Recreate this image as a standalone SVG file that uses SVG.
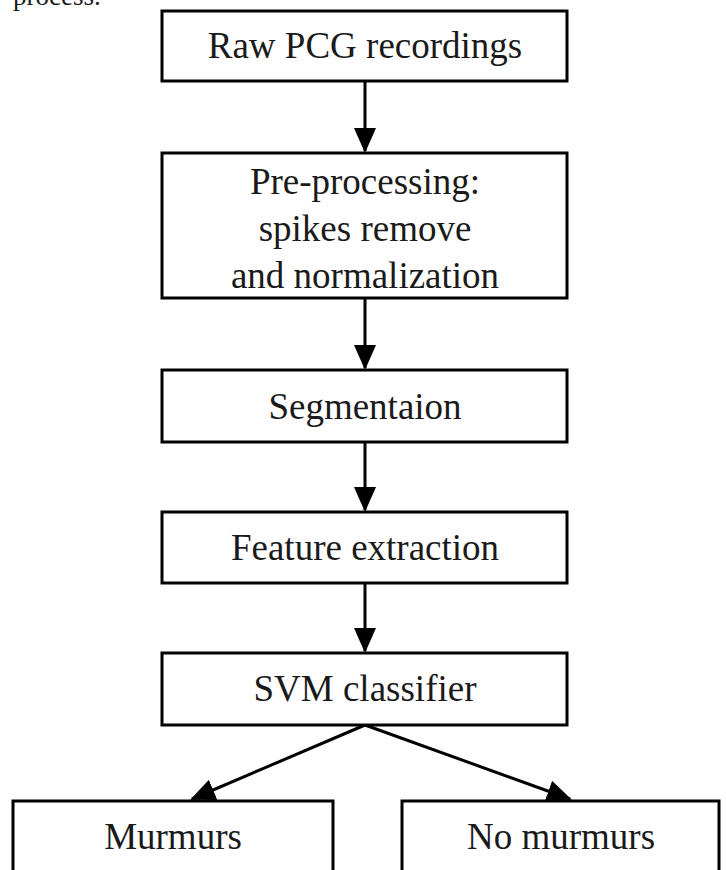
<svg xmlns="http://www.w3.org/2000/svg" width="726" height="870" viewBox="0 0 726 870">
<style>
.box{fill:#fff;stroke:#000;stroke-width:3}
.t{font-family:"Liberation Serif","Times New Roman",serif;font-size:37px;fill:#1a1a1a;text-anchor:middle}
.c{stroke:#000;stroke-width:3;fill:none}
</style>
<defs>
<marker id="ah" viewBox="0 0 25 22" refX="23" refY="11" markerWidth="25" markerHeight="22" orient="auto" markerUnits="userSpaceOnUse">
<path d="M0,0 L25,11 L0,22 z" fill="#000"/>
</marker>
</defs>
<rect width="726" height="870" fill="#fff"/>
<text x="13" y="5" style="font-family:'Liberation Serif',serif;font-size:27px;fill:#1a1a1a">process.</text>
<g id="connectors">
<line class="c" x1="365" y1="81" x2="365" y2="151" marker-end="url(#ah)"/>
<line class="c" x1="365" y1="298" x2="365" y2="368" marker-end="url(#ah)"/>
<line class="c" x1="365" y1="442" x2="365" y2="510" marker-end="url(#ah)"/>
<line class="c" x1="365" y1="583" x2="365" y2="651" marker-end="url(#ah)"/>
<line class="c" x1="365" y1="725" x2="192" y2="799" marker-end="url(#ah)"/>
<line class="c" x1="365" y1="725" x2="570" y2="799" marker-end="url(#ah)"/>
</g>
<g id="raw">
<rect class="box" x="162" y="11" width="405" height="70"/>
<text class="t" x="365" y="58">Raw PCG recordings</text>
</g>
<g id="pre">
<rect class="box" x="162" y="153" width="405" height="145"/>
<text class="t" x="365" y="194">Pre-processing:</text>
<text class="t" x="365" y="241">spikes remove</text>
<text class="t" x="365" y="288">and normalization</text>
</g>
<g id="seg">
<rect class="box" x="162" y="370" width="405" height="72"/>
<text class="t" x="365" y="419">Segmentaion</text>
</g>
<g id="feat">
<rect class="box" x="162" y="512" width="405" height="71"/>
<text class="t" x="365" y="560">Feature extraction</text>
</g>
<g id="svm">
<rect class="box" x="162" y="653" width="405" height="72"/>
<text class="t" x="365" y="701">SVM classifier</text>
</g>
<g id="murmurs">
<rect class="box" x="13" y="801" width="320" height="80"/>
<text class="t" x="173" y="849">Murmurs</text>
</g>
<g id="nomurmurs">
<rect class="box" x="402" y="801" width="317" height="80"/>
<text class="t" x="561" y="849">No murmurs</text>
</g>
</svg>
